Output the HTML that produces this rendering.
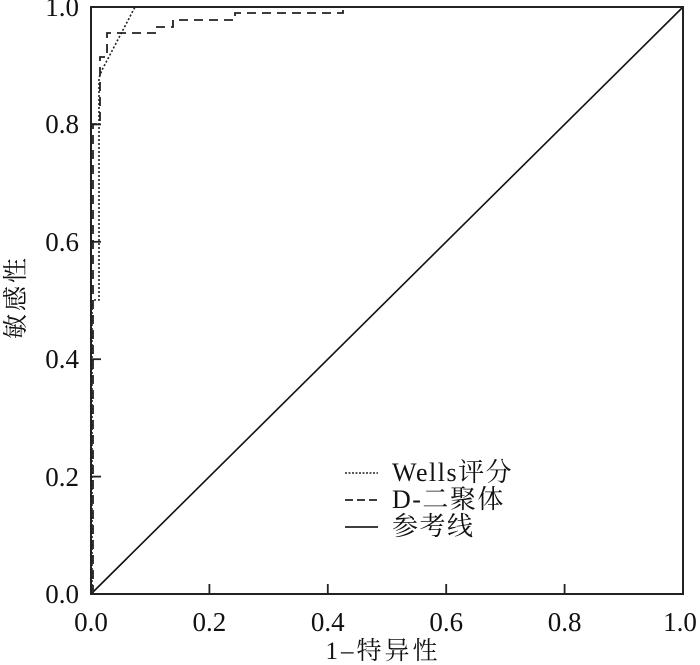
<!DOCTYPE html>
<html>
<head>
<meta charset="utf-8">
<style>
  html,body{margin:0;padding:0;background:#fff;}
  svg{display:block;}
  text{font-family:"Liberation Serif","Noto Serif CJK SC","Noto Sans CJK SC",serif;fill:#111;}
</style>
</head>
<body>
<svg width="700" height="665" viewBox="0 0 700 665" xmlns="http://www.w3.org/2000/svg">
  <rect width="700" height="665" fill="#fff"/>
  <!-- reference diagonal -->
  <line x1="91" y1="594" x2="683" y2="7" stroke="#111" stroke-width="1.6"/>
  <!-- D-dimer dashed -->
  <path d="M93,594 V124 H100 V57 H107 V33 H156 V27 H173 V20 H235 V13 H343 V7 H683" fill="none" stroke="#222" stroke-width="1.8" stroke-dasharray="9 6"/>
  <!-- Wells dotted -->
  <path d="M92,594 V300 H99 V78 L102,70 L135,7 H683" fill="none" stroke="#222" stroke-width="1.6" stroke-dasharray="2 2"/>
  <!-- frame -->
  <rect x="91" y="7" width="592" height="587" fill="none" stroke="#222" stroke-width="2"/>
  <!-- ticks -->
  <g stroke="#222" stroke-width="1.8">
    <line x1="209.4" y1="594" x2="209.4" y2="584"/>
    <line x1="327.8" y1="594" x2="327.8" y2="584"/>
    <line x1="446.2" y1="594" x2="446.2" y2="584"/>
    <line x1="564.6" y1="594" x2="564.6" y2="584"/>
    <line x1="91" y1="476.6" x2="101" y2="476.6"/>
    <line x1="91" y1="359.2" x2="101" y2="359.2"/>
    <line x1="91" y1="241.8" x2="101" y2="241.8"/>
    <line x1="91" y1="124.4" x2="101" y2="124.4"/>
  </g>
  <!-- y tick labels -->
  <g font-size="27" text-anchor="end">
    <text x="79" y="603">0.0</text>
    <text x="79" y="486">0.2</text>
    <text x="79" y="368">0.4</text>
    <text x="79" y="251">0.6</text>
    <text x="79" y="133">0.8</text>
    <text x="79" y="16">1.0</text>
  </g>
  <!-- x tick labels -->
  <g font-size="27" text-anchor="middle">
    <text x="91" y="631">0.0</text>
    <text x="209.4" y="631">0.2</text>
    <text x="327.8" y="631">0.4</text>
    <text x="446.2" y="631">0.6</text>
    <text x="564.6" y="631">0.8</text>
    <text x="680" y="631">1.0</text>
  </g>
  <!-- axis titles -->
  <text x="383" y="659" font-size="25" text-anchor="middle" letter-spacing="3">1–特异性</text>
  <text transform="translate(24,297) rotate(-90)" font-size="25" text-anchor="middle" letter-spacing="3">敏感性</text>
  <!-- legend -->
  <line x1="345" y1="473" x2="378" y2="473" stroke="#222" stroke-width="1.5" stroke-dasharray="2 1.5"/>
  <line x1="345" y1="500" x2="378" y2="500" stroke="#222" stroke-width="1.8" stroke-dasharray="8 4"/>
  <line x1="345" y1="527" x2="378" y2="527" stroke="#222" stroke-width="1.8"/>
  <g font-size="26" letter-spacing="1.5">
    <text x="392" y="481">Wells评分</text>
    <text x="392" y="508">D-二聚体</text>
    <text x="392" y="535">参考线</text>
  </g>
</svg>
</body>
</html>
